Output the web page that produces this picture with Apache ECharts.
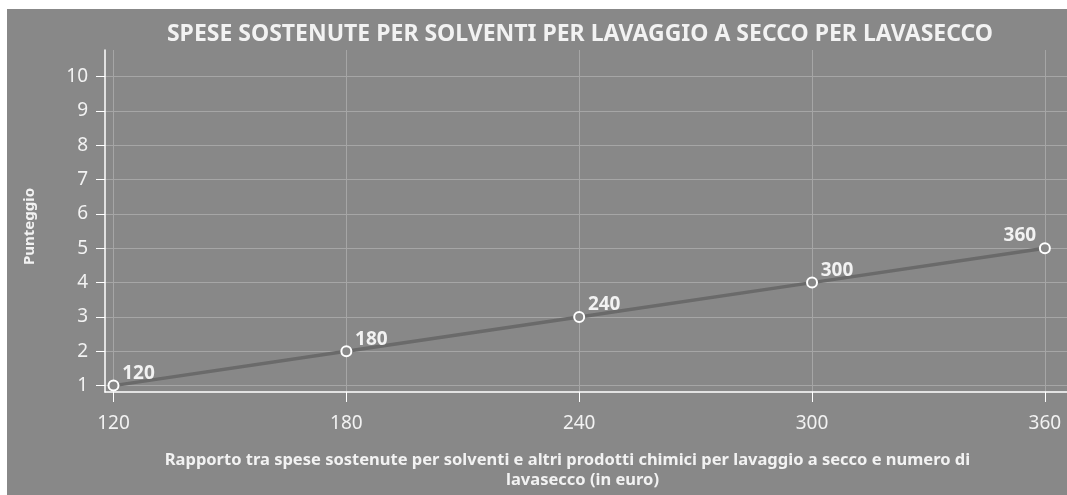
<!DOCTYPE html>
<html>
<head>
<meta charset="utf-8">
<script src="https://cdn.jsdelivr.net/npm/echarts@6/dist/echarts.min.js"></script>
<style>
html,body{margin:0;padding:0;background:#ffffff;width:1067px;height:495px;overflow:hidden;}
#chart{position:absolute;left:7px;top:9px;width:1060px;height:486px;}
</style>
</head>
<body>
<div id="chart"></div>
<script>
const titleText = 'SPESE SOSTENUTE PER SOLVENTI PER LAVAGGIO A SECCO PER LAVASECCO';
const xAxisTitle = 'Rapporto tra spese sostenute per solventi e altri prodotti chimici per lavaggio a secco e numero di       \nlavasecco (in euro)';
const yAxisTitle = 'Punteggio';
const xValues = [120, 180, 240, 300, 360];
const yValues = [1, 2, 3, 4, 5];
const xTicks = [120, 180, 240, 300, 360];
const yTicks = [1, 2, 3, 4, 5, 6, 7, 8, 9, 10];

const FONT = '"Noto Sans", sans-serif';
const chart = echarts.init(document.getElementById('chart'), null, {renderer: 'canvas'});
const seriesData = xValues.map((x, i) => [x, yValues[i]]);

chart.setOption({
  backgroundColor: '#888888',
  animation: false,
  title: {
    text: titleText,
    left: 568,
    top: 9,
    textAlign: 'center',
    textStyle: {color: '#f2f2f2', fontSize: 23, fontWeight: 'bold', fontFamily: FONT}
  },
  grid: {left: 98, right: 0, top: 41, bottom: 102, containLabel: false},
  xAxis: {
    type: 'value',
    min: 117.81,
    max: 365.7,
    name: xAxisTitle,
    nameLocation: 'middle',
    nameGap: 58,
    nameTextStyle: {color: '#f2f2f2', fontSize: 16.5, fontWeight: 'bold', fontFamily: FONT, lineHeight: 20, padding: [0, 7, 0, 0]},
    axisLine: {show: true, lineStyle: {color: '#ffffff', width: 1.5}},
    axisTick: {show: true, length: 10, customValues: xTicks, lineStyle: {color: '#ffffff', width: 1}},
    axisLabel: {customValues: xTicks, color: '#f2f2f2', fontSize: 19, fontFamily: FONT, margin: 22},
    splitLine: {show: true, customValues: xTicks, lineStyle: {color: '#a6a6a6', width: 1}}
  },
  yAxis: {
    type: 'value',
    min: 0.814,
    max: 10.775,
    name: yAxisTitle,
    nameLocation: 'middle',
    nameGap: 68,
    nameTextStyle: {color: '#f2f2f2', fontSize: 15, fontWeight: 'bold', fontFamily: FONT, padding: [0, 11, 0, 0]},
    axisLine: {show: true, lineStyle: {color: '#ffffff', width: 1.5}},
    axisTick: {show: true, length: 9, customValues: yTicks, lineStyle: {color: '#ffffff', width: 1}},
    axisLabel: {customValues: yTicks, color: '#f2f2f2', fontSize: 19, fontFamily: FONT, margin: 17},
    splitLine: {show: true, customValues: yTicks, lineStyle: {color: '#a6a6a6', width: 1}}
  },
  series: [{
    type: 'line',
    data: seriesData,
    symbol: 'circle',
    symbolSize: 10,
    showAllSymbol: true,
    lineStyle: {color: '#6a6a6a', width: 3.5},
    itemStyle: {color: '#888888', borderColor: '#ffffff', borderWidth: 2},
    label: {
      show: true,
      position: 'inside',
      formatter: p => String(p.value[0]),
      color: '#f2f2f2',
      fontSize: 19,
      fontWeight: 'bold',
      fontFamily: FONT
    },
    labelLayout: function (params) {
      if (params.dataIndex === xValues.length - 1) {
        return {dx: -25, dy: -13};
      }
      return {dx: 25, dy: -12};
    }
  }]
});
</script>
</body>
</html>
